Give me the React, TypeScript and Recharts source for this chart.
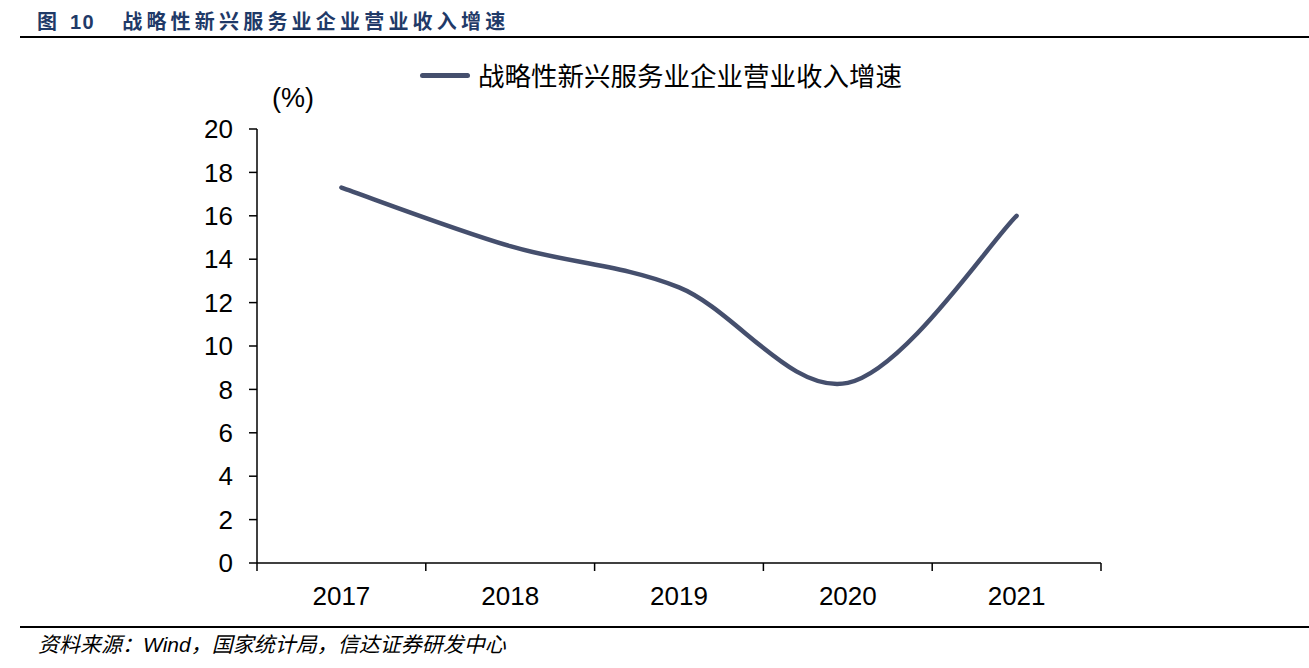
import React from 'react';
import { LineChart, Line, XAxis, YAxis } from 'recharts';

const years = ['2017', '2018', '2019', '2020', '2021'];
const growth = [17.3, 14.6, 12.7, 8.3, 16.0];
const yTicks = [0, 2, 4, 6, 8, 10, 12, 14, 16, 18, 20];

const seriesName = '战略性新兴服务业企业营业收入增速';
const lineColor = '#454f6d';
const numFont = '"Liberation Sans", Arial, sans-serif';
const cjkFont = '"Noto Sans CJK SC", "Liberation Sans", sans-serif';

const data = years.map((year, i) => ({ year, value: growth[i] }));

// Excel-like smoothed line (Catmull-Rom through the points)
const smoothCurve: any = (context: any) => {
  let pts: number[][] = [];
  return {
    areaStart() {},
    areaEnd() {},
    lineStart() {
      pts = [];
    },
    point(x: number, y: number) {
      pts.push([+x, +y]);
    },
    lineEnd() {
      if (!pts.length) return;
      context.moveTo(pts[0][0], pts[0][1]);
      for (let i = 0; i < pts.length - 1; i++) {
        const p0 = pts[i - 1] || pts[i];
        const p1 = pts[i];
        const p2 = pts[i + 1];
        const p3 = pts[i + 2] || p2;
        const t = 1 / 6;
        context.bezierCurveTo(
          p1[0] + (p2[0] - p0[0]) * t,
          p1[1] + (p2[1] - p0[1]) * t,
          p2[0] - (p3[0] - p1[0]) * t,
          p2[1] - (p3[1] - p1[1]) * t,
          p2[0],
          p2[1]
        );
      }
    },
  };
};

// category label with tick marks on the category boundaries
const YearTick = (props: any) => {
  const { x, y, payload, index } = props;
  const half = payload && payload.offset ? payload.offset : 84.4;
  return (
    <g>
      <line x1={x - half} y1={y} x2={x - half} y2={y + 8} stroke="#000" strokeWidth={1.5} />
      {index === years.length - 1 && (
        <line x1={x + half} y1={y} x2={x + half} y2={y + 8} stroke="#000" strokeWidth={1.5} />
      )}
      <text x={x} y={y + 42} textAnchor="middle" fontSize={26} fontFamily={numFont} fill="#000">
        {payload.value}
      </text>
    </g>
  );
};

export default function App() {
  return (
    <div style={{ position: 'absolute', left: 0, top: 0, width: 1309, height: 668, background: '#fff' }}>
      <div
        style={{
          position: 'absolute',
          left: 37,
          top: 6,
          fontSize: 20,
          fontWeight: 'bold',
          color: '#1f3a68',
          fontFamily: cjkFont,
          whiteSpace: 'nowrap',
          letterSpacing: 4.2,
        }}
      >
        图 <span style={{ fontFamily: numFont, letterSpacing: 1.5 }}>10</span>
        <span style={{ display: 'inline-block', width: 27 }} />
        战略性新兴服务业企业营业收入增速
      </div>
      <div style={{ position: 'absolute', left: 20, right: 0, top: 36, height: 2, background: '#000' }} />

      <div style={{ position: 'absolute', left: 420, top: 58, display: 'flex', alignItems: 'center' }}>
        <div style={{ width: 50, height: 5, borderRadius: 3, background: lineColor, marginRight: 8 }} />
        <span style={{ fontSize: 26.5, fontFamily: cjkFont, color: '#000', lineHeight: '34px' }}>{seriesName}</span>
      </div>

      <div style={{ position: 'absolute', left: 272, top: 83, fontSize: 27, fontFamily: numFont }}>(%)</div>

      <LineChart
        width={1309}
        height={668}
        data={data}
        margin={{ top: 129, right: 208, bottom: 55, left: 0 }}
        style={{ position: 'absolute', left: 0, top: 0 }}
      >
        <YAxis
          width={257}
          domain={[0, 20]}
          ticks={yTicks}
          interval={0}
          tickSize={8}
          tickMargin={16}
          axisLine={{ stroke: '#000', strokeWidth: 1.5 }}
          tickLine={{ stroke: '#000', strokeWidth: 1.5 }}
          tick={{ fontSize: 26, fill: '#000', fontFamily: numFont }}
        />
        <XAxis
          dataKey="year"
          scale="band"
          height={50}
          interval={0}
          tickSize={0}
          tickMargin={0}
          tickLine={false}
          axisLine={{ stroke: '#000', strokeWidth: 1.5 }}
          tick={<YearTick />}
        />
        <Line
          dataKey="value"
          name={seriesName}
          type={smoothCurve}
          stroke={lineColor}
          strokeWidth={4.5}
          strokeLinecap="round"
          dot={false}
          activeDot={false}
          isAnimationActive={false}
        />
      </LineChart>

      <div style={{ position: 'absolute', left: 20, right: 0, top: 626, height: 2, background: '#000' }} />
      <div
        style={{
          position: 'absolute',
          left: 38,
          top: 628,
          fontSize: 21,
          fontStyle: 'italic',
          fontFamily: cjkFont,
          whiteSpace: 'nowrap',
          color: '#000',
        }}
      >
        资料来源：<span style={{ fontFamily: numFont }}>Wind</span>，国家统计局，信达证券研发中心
      </div>
    </div>
  );
}
